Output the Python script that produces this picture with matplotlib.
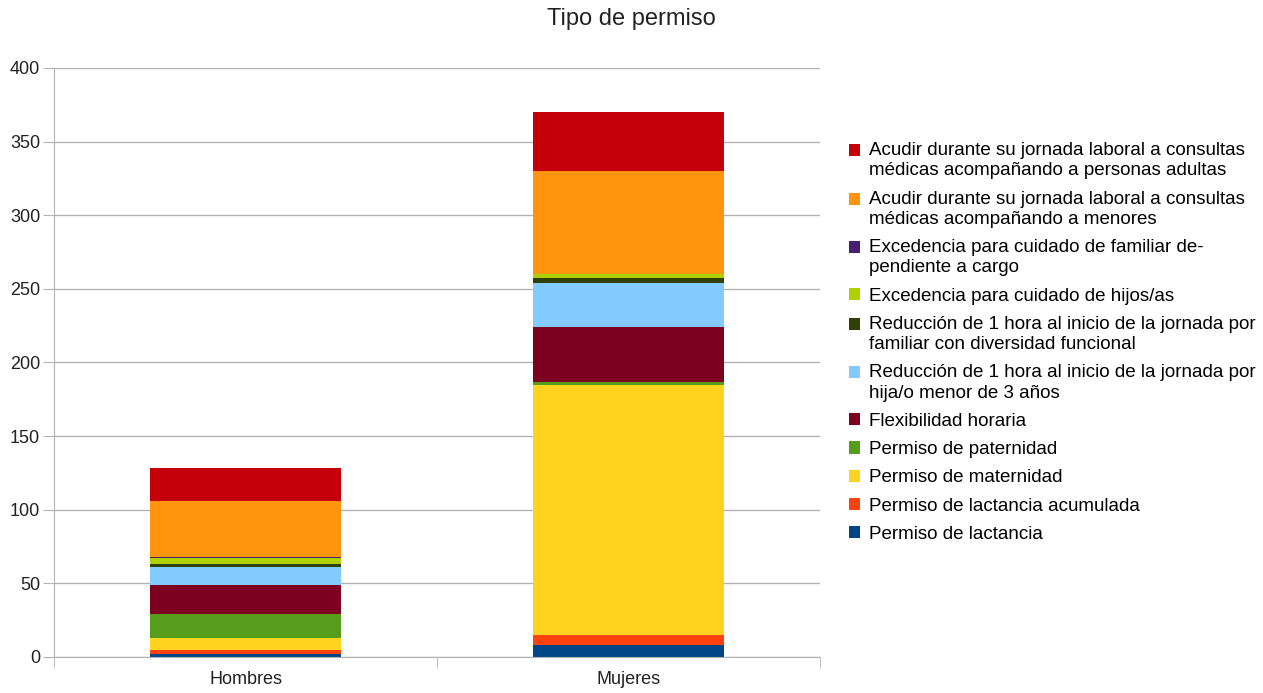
import matplotlib
matplotlib.use("Agg")
import matplotlib.pyplot as plt
from matplotlib.legend_handler import HandlerPatch
from matplotlib.patches import Rectangle
import numpy as np

plt.rcParams['font.family'] = ['Liberation Sans', 'DejaVu Sans']

# categories and series (bottom to top of the stack)
grupos = ["Hombres", "Mujeres"]
series = [
    "Permiso de lactancia",
    "Permiso de lactancia acumulada",
    "Permiso de maternidad",
    "Permiso de paternidad",
    "Flexibilidad horaria",
    "Reducción de 1 hora al inicio de la jornada por\nhija/o menor de 3 años",
    "Reducción de 1 hora al inicio de la jornada por\nfamiliar con diversidad funcional",
    "Excedencia para cuidado de hijos/as",
    "Excedencia para cuidado de familiar de-\npendiente a cargo",
    "Acudir durante su jornada laboral a consultas\nmédicas acompañando a menores",
    "Acudir durante su jornada laboral a consultas\nmédicas acompañando a personas adultas",
]
hombres = [2, 3, 8, 16, 20, 12, 2, 4, 1, 38, 22]
mujeres = [8, 7, 170, 2, 37, 30, 3, 3, 0, 70, 40]
colores = ["#004586", "#ff420e", "#ffd320", "#579d1c", "#7e0021", "#83caff",
           "#314004", "#aecf00", "#4b1f6f", "#ff950e", "#c5000b"]

fig = plt.figure(figsize=(12.63, 6.93), dpi=100)
ax = fig.add_axes([0.0428, 0.052, 0.6065, 0.850])

x = np.arange(len(grupos))
base = np.zeros(len(grupos))
handles = []
for nombre, h, m, c in zip(series, hombres, mujeres, colores):
    vals = np.array([h, m], dtype=float)
    b = ax.bar(x, vals, bottom=base, width=0.5, color=c, label=nombre, zorder=2)
    handles.append(b.patches[0])
    base += vals

ax.set_xlim(-0.5, 1.5)
ax.set_ylim(0, 400)
ax.set_yticks(np.arange(0, 401, 50))
ax.set_xticks(x)
ax.set_xticklabels(grupos)
ax.set_xticks([-0.5, 0.5, 1.5], minor=True)
ax.tick_params(axis='x', which='major', length=0, pad=10, labelsize=13, colors='#222222')
ax.tick_params(axis='x', which='minor', length=8, color='#b3b3b3', direction='out')
ax.tick_params(axis='y', length=8, color='#b3b3b3', labelsize=13, pad=2, labelcolor='#222222')
ax.yaxis.grid(True, color='#b3b3b3', linewidth=1, zorder=0)
for s in ['top', 'right']:
    ax.spines[s].set_visible(False)
for s in ['left', 'bottom']:
    ax.spines[s].set_color('#b3b3b3')

fig.suptitle("Tipo de permiso", x=0.5, y=0.988, fontsize=17, color='#222222')


# square next to the first line of a two-line label
def cuadro_arriba(legend, orig_handle, xdescent, ydescent, width, height, fontsize):
    return Rectangle((-xdescent, -ydescent + 0.56 * fontsize), width, height)


mapa = {h: HandlerPatch(patch_func=cuadro_arriba)
        for h, s in zip(handles, series) if "\n" in s}

leg = ax.legend(handles[::-1], series[::-1], loc='upper left',
                bbox_to_anchor=(0.672, 0.795), bbox_transform=fig.transFigure,
                frameon=False, fontsize=13.5, handlelength=0.62, handleheight=0.62,
                handletextpad=0.45, labelspacing=0.6, borderaxespad=0, borderpad=0,
                handler_map=mapa)
for t in leg.get_texts():
    t.set_linespacing(1.25)

fig.savefig("out.png", dpi=100)
